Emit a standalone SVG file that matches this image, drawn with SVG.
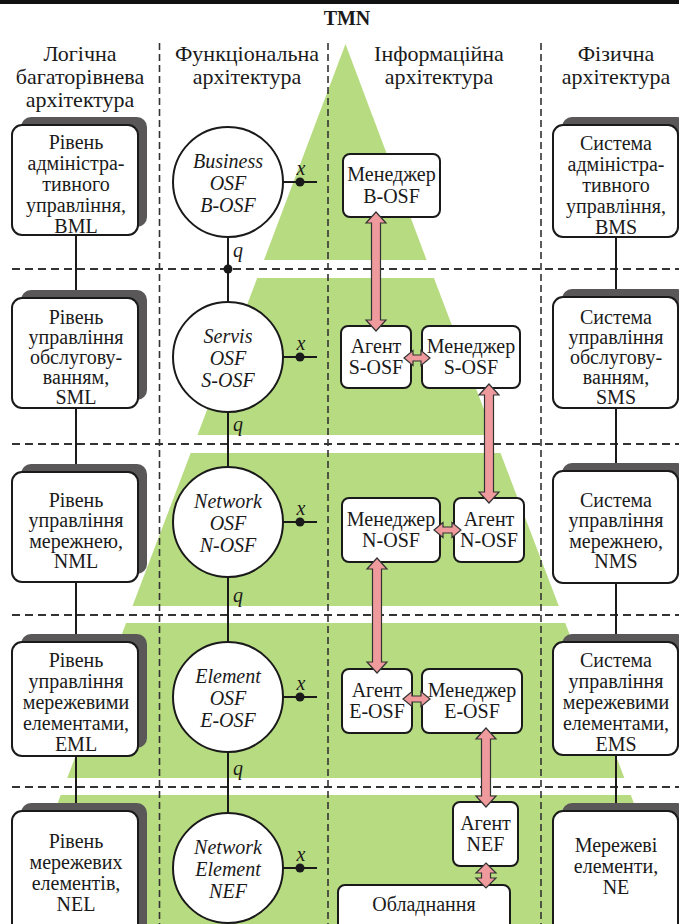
<svg xmlns="http://www.w3.org/2000/svg" width="679" height="924" viewBox="0 0 679 924">
<style>
text{font-family:"Liberation Serif","Times New Roman",serif;fill:#1a1a1a;text-anchor:middle}
.hdr{font-size:22px}
.bt{font-size:20px}
.it{font-size:20px;font-style:italic}
.ib{font-size:20px}
.box{fill:#fff;stroke:#1a1a1a;stroke-width:2}
.sh{fill:#5a5758}
.ln{stroke:#1a1a1a;stroke-width:2;fill:none}
.dh{stroke:#333;stroke-width:1.8;stroke-dasharray:8 5;fill:none}
.dv{stroke:#333;stroke-width:1.6;stroke-dasharray:7 4;fill:none}
.band{fill:#b7db80}
.arr{fill:#ef9a9c;stroke:#333;stroke-width:1.2;stroke-linejoin:miter}
.dot{fill:#1a1a1a}
</style>
<rect width="679" height="924" fill="#fff"/>
<g id="pyramid">
<polygon class="band" points="345.5,44 426.6,260 264,260"/>
<polygon class="band" points="257.2,278 433.9,278 493.7,435 197.5,435"/>
<polygon class="band" points="190.7,453 500.5,453 558.8,606 132.5,606"/>
<polygon class="band" points="126.1,623 565.3,623 624.4,778 67.2,778"/>
<polygon class="band" points="60.7,795 630.8,795 680,924 11.7,924"/>
</g>
<g id="grid">
<line x1="0" y1="2" x2="679" y2="2" stroke="#111" stroke-width="4"/>
<line class="dv" x1="159.5" y1="43" x2="159.5" y2="924"/>
<line class="dv" x1="328" y1="43" x2="328" y2="924"/>
<line class="dv" x1="541" y1="43" x2="541" y2="924"/>
<line class="dh" x1="12" y1="269" x2="679" y2="269"/>
<line class="dh" x1="12" y1="444" x2="679" y2="444"/>
<line class="dh" x1="12" y1="615" x2="679" y2="615"/>
<line class="dh" x1="12" y1="787" x2="679" y2="787"/>
</g>
<g id="headers">
<text x="347" y="25" style="font-size:20px;font-weight:bold">TMN</text>
<text class="hdr" x="80"><tspan x="80" y="61">Логічна</tspan><tspan x="80" y="84">багаторівнева</tspan><tspan x="80" y="107">архітектура</tspan></text>
<text class="hdr" x="247"><tspan x="247" y="61">Функціональна</tspan><tspan x="247" y="84">архітектура</tspan></text>
<text class="hdr" x="439"><tspan x="439" y="61">Інформаційна</tspan><tspan x="439" y="84">архітектура</tspan></text>
<text class="hdr" x="616"><tspan x="616" y="61">Фізична</tspan><tspan x="616" y="84">архітектура</tspan></text>
</g>
<g id="connectors">
<line class="ln" x1="76" y1="235" x2="76" y2="298"/>
<line class="ln" x1="76" y1="408" x2="76" y2="472"/>
<line class="ln" x1="76" y1="582" x2="76" y2="642"/>
<line class="ln" x1="76" y1="756" x2="76" y2="811"/>
<line class="ln" x1="616" y1="237" x2="616" y2="297"/>
<line class="ln" x1="616" y1="408" x2="616" y2="471"/>
<line class="ln" x1="616" y1="583" x2="616" y2="642"/>
<line class="ln" x1="616" y1="755" x2="616" y2="811"/>
<line class="ln" x1="228" y1="237" x2="228" y2="302"/>
<line class="ln" x1="228" y1="412" x2="228" y2="467"/>
<line class="ln" x1="228" y1="577" x2="228" y2="642"/>
<line class="ln" x1="228" y1="752" x2="228" y2="813"/>
<circle class="dot" cx="228" cy="269" r="4.5"/>
<text class="it" x="238" y="257">q</text>
<text class="it" x="238" y="431">q</text>
<text class="it" x="238" y="602">q</text>
<text class="it" x="238" y="775">q</text>
<line class="ln" x1="283" y1="182" x2="317" y2="182"/>
<line class="ln" x1="283" y1="357" x2="317" y2="357"/>
<line class="ln" x1="283" y1="522" x2="317" y2="522"/>
<line class="ln" x1="283" y1="697" x2="317" y2="697"/>
<line class="ln" x1="283" y1="868" x2="317" y2="868"/>
<circle class="dot" cx="300" cy="182" r="4.5"/>
<circle class="dot" cx="300" cy="357" r="4.5"/>
<circle class="dot" cx="300" cy="522" r="4.5"/>
<circle class="dot" cx="300" cy="697" r="4.5"/>
<circle class="dot" cx="300" cy="868" r="4.5"/>
<text class="it" x="301" y="175">x</text>
<text class="it" x="301" y="350">x</text>
<text class="it" x="301" y="515">x</text>
<text class="it" x="301" y="690">x</text>
<text class="it" x="301" y="861">x</text>
</g>
<g id="bml">
<rect class="sh" x="21" y="117" width="126" height="110" rx="10"/>
<rect class="box" x="12" y="125" width="126" height="110" rx="10"/>
<text class="bt"><tspan x="76" y="149">Рівень</tspan><tspan x="76" y="170">адміністра-</tspan><tspan x="76" y="191">тивного</tspan><tspan x="76" y="212">управління,</tspan><tspan x="76" y="233">BML</tspan></text>
</g>
<g id="sml">
<rect class="sh" x="21" y="290" width="126" height="110" rx="10"/>
<rect class="box" x="12" y="298" width="126" height="110" rx="10"/>
<text class="bt"><tspan x="76" y="324">Рівень</tspan><tspan x="76" y="344">управління</tspan><tspan x="76" y="364">обслугову-</tspan><tspan x="76" y="384">ванням,</tspan><tspan x="76" y="404">SML</tspan></text>
</g>
<g id="nml">
<rect class="sh" x="21" y="464" width="126" height="110" rx="10"/>
<rect class="box" x="12" y="472" width="126" height="110" rx="10"/>
<text class="bt"><tspan x="76" y="507">Рівень</tspan><tspan x="76" y="527">управління</tspan><tspan x="76" y="548">мережнею,</tspan><tspan x="76" y="568">NML</tspan></text>
</g>
<g id="eml">
<rect class="sh" x="21" y="634" width="126" height="114" rx="10"/>
<rect class="box" x="12" y="642" width="126" height="114" rx="10"/>
<text class="bt"><tspan x="76" y="667">Рівень</tspan><tspan x="76" y="688">управління</tspan><tspan x="76" y="709">мережевими</tspan><tspan x="76" y="730">елементами,</tspan><tspan x="76" y="751">EML</tspan></text>
</g>
<g id="nel">
<rect class="sh" x="21" y="803" width="126" height="130" rx="10"/>
<rect class="box" x="12" y="811" width="126" height="130" rx="10"/>
<text class="bt"><tspan x="76" y="848">Рівень</tspan><tspan x="76" y="869">мережевих</tspan><tspan x="76" y="890">елементів,</tspan><tspan x="76" y="911">NEL</tspan></text>
</g>
<g id="bms">
<rect class="sh" x="562" y="117" width="125" height="112" rx="10"/>
<rect class="box" x="553" y="125" width="125" height="112" rx="10"/>
<text class="bt"><tspan x="616" y="150">Система</tspan><tspan x="616" y="171">адміністра-</tspan><tspan x="616" y="192">тивного</tspan><tspan x="616" y="213">управління,</tspan><tspan x="616" y="234">BMS</tspan></text>
</g>
<g id="sms">
<rect class="sh" x="562" y="289" width="125" height="111" rx="10"/>
<rect class="box" x="553" y="297" width="125" height="111" rx="10"/>
<text class="bt"><tspan x="616" y="324">Система</tspan><tspan x="616" y="344">управління</tspan><tspan x="616" y="364">обслугову-</tspan><tspan x="616" y="384">ванням,</tspan><tspan x="616" y="404">SMS</tspan></text>
</g>
<g id="nms">
<rect class="sh" x="562" y="463" width="125" height="112" rx="10"/>
<rect class="box" x="553" y="471" width="125" height="112" rx="10"/>
<text class="bt"><tspan x="616" y="507">Система</tspan><tspan x="616" y="527">управління</tspan><tspan x="616" y="548">мережнею,</tspan><tspan x="616" y="568">NMS</tspan></text>
</g>
<g id="ems">
<rect class="sh" x="562" y="634" width="125" height="113" rx="10"/>
<rect class="box" x="553" y="642" width="125" height="113" rx="10"/>
<text class="bt"><tspan x="616" y="667">Система</tspan><tspan x="616" y="688">управління</tspan><tspan x="616" y="709">мережевими</tspan><tspan x="616" y="730">елементами,</tspan><tspan x="616" y="751">EMS</tspan></text>
</g>
<g id="ne">
<rect class="sh" x="562" y="803" width="125" height="130" rx="10"/>
<rect class="box" x="553" y="811" width="125" height="130" rx="10"/>
<text class="bt"><tspan x="616" y="852">Мережеві</tspan><tspan x="616" y="873">елементи,</tspan><tspan x="616" y="894">NE</tspan></text>
</g>
<g id="b-osf">
<circle class="box" cx="228" cy="182" r="55"/>
<text class="it"><tspan x="228" y="168">Business</tspan><tspan x="228" y="190">OSF</tspan><tspan x="228" y="212">B-OSF</tspan></text>
</g>
<g id="s-osf">
<circle class="box" cx="228" cy="357" r="55"/>
<text class="it"><tspan x="228" y="343">Servis</tspan><tspan x="228" y="365">OSF</tspan><tspan x="228" y="387">S-OSF</tspan></text>
</g>
<g id="n-osf">
<circle class="box" cx="228" cy="522" r="55"/>
<text class="it"><tspan x="228" y="508">Network</tspan><tspan x="228" y="530">OSF</tspan><tspan x="228" y="552">N-OSF</tspan></text>
</g>
<g id="e-osf">
<circle class="box" cx="228" cy="697" r="55"/>
<text class="it"><tspan x="228" y="683">Element</tspan><tspan x="228" y="705">OSF</tspan><tspan x="228" y="727">E-OSF</tspan></text>
</g>
<g id="nef">
<circle class="box" cx="228" cy="868" r="55"/>
<text class="it"><tspan x="228" y="854">Network</tspan><tspan x="228" y="876">Element</tspan><tspan x="228" y="898">NEF</tspan></text>
</g>
<g id="mgr-b">
<rect class="box" x="343" y="154" width="97" height="63" rx="7"/>
<text class="ib"><tspan x="391.5" y="181">Менеджер</tspan><tspan x="391.5" y="203">B-OSF</tspan></text>
</g>
<g id="ag-s">
<rect class="box" x="341" y="326" width="70" height="62" rx="7"/>
<text class="ib"><tspan x="376" y="353">Агент</tspan><tspan x="376" y="374">S-OSF</tspan></text>
</g>
<g id="mgr-s">
<rect class="box" x="422" y="326" width="98" height="62" rx="7"/>
<text class="ib"><tspan x="471" y="353">Менеджер</tspan><tspan x="471" y="374">S-OSF</tspan></text>
</g>
<g id="mgr-n">
<rect class="box" x="342" y="498" width="98" height="64" rx="7"/>
<text class="ib"><tspan x="391" y="526">Менеджер</tspan><tspan x="391" y="547">N-OSF</tspan></text>
</g>
<g id="ag-n">
<rect class="box" x="454" y="498" width="70" height="64" rx="7"/>
<text class="ib"><tspan x="489" y="526">Агент</tspan><tspan x="489" y="547">N-OSF</tspan></text>
</g>
<g id="ag-e">
<rect class="box" x="342" y="669" width="70" height="64" rx="7"/>
<text class="ib"><tspan x="377" y="697">Агент</tspan><tspan x="377" y="718">E-OSF</tspan></text>
</g>
<g id="mgr-e">
<rect class="box" x="422" y="669" width="100" height="64" rx="7"/>
<text class="ib"><tspan x="472" y="697">Менеджер</tspan><tspan x="472" y="718">E-OSF</tspan></text>
</g>
<g id="ag-nef">
<rect class="box" x="453" y="802" width="65" height="64" rx="7"/>
<text class="ib"><tspan x="485.5" y="830">Агент</tspan><tspan x="485.5" y="851">NEF</tspan></text>
</g>
<g id="equip">
<rect class="box" x="338" y="885" width="172" height="50" rx="7"/>
<text class="ib" x="424" y="911">Обладнання</text>
</g>
<g id="arrows">
<polygon class="arr" points="376,212 386,223 380.5,223 380.5,320 386,320 376,331 366,320 371.5,320 371.5,223 366,223"/>
<polygon class="arr" points="489,384 499,395 493.5,395 493.5,492 499,492 489,503 479,492 484.5,492 484.5,395 479,395"/>
<polygon class="arr" points="377,558 387,569 381.5,569 381.5,662 387,662 377,673 367,662 372.5,662 372.5,569 367,569"/>
<polygon class="arr" points="486,728 496,739 490.5,739 490.5,796 496,796 486,807 476,796 481.5,796 481.5,739 476,739"/>
<polygon class="arr" points="486,863 496,873 490.5,873 490.5,878 496,878 486,888 476,878 481.5,878 481.5,873 476,873"/>
<polygon class="arr" points="404,358 413,350.5 413,355 421,355 421,350.5 430,358 421,365.5 421,361 413,361 413,365.5"/>
<polygon class="arr" points="434,530 443,522.5 443,527 452,527 452,522.5 461,530 452,537.5 452,533 443,533 443,537.5"/>
<polygon class="arr" points="403,699 412,691.5 412,696 421,696 421,691.5 430,699 421,706.5 421,702 412,702 412,706.5"/>
</g>
</svg>
